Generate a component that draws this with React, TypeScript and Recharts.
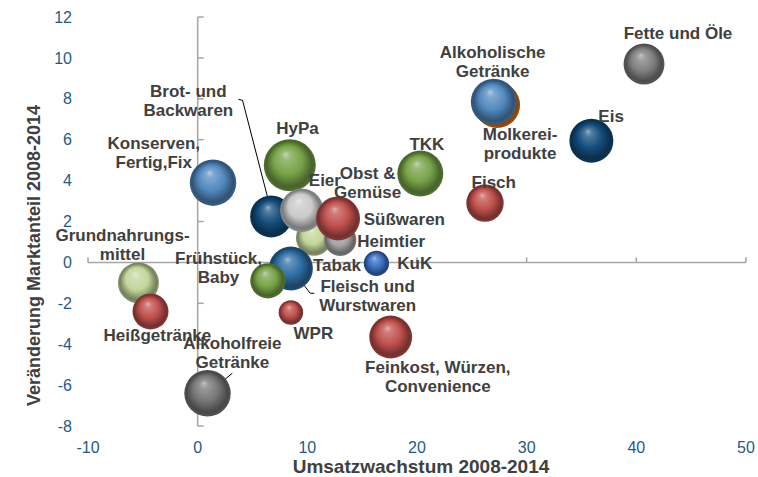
import {
  ScatterChart, Scatter, XAxis, YAxis, ZAxis, ReferenceLine, ReferenceDot,
} from 'recharts';

// bubbles (draw order = stacking order)
const names = [
  'Grundnahrungsmittel', 'Heißgetränke', 'Konserven, Fertig, Fix', 'Alkoholfreie Getränke',
  'HyPa', 'Brot- und Backwaren', 'Obst & Gemüse', 'Heimtier', 'Eier', 'Süßwaren',
  'Fleisch und Wurstwaren', 'Frühstück, Baby', 'WPR', 'KuK', 'Feinkost, Würzen, Convenience',
  'TKK', 'Fisch', 'Molkereiprodukte', 'Alkoholische Getränke', 'Eis', 'Fette und Öle',
];
const umsatzwachstum = [
  -5.4, -4.3, 1.4, 0.9, 8.4, 6.7, 10.6, 13.0, 9.5, 12.8,
  8.5, 6.4, 8.5, 16.3, 17.6, 20.3, 26.2, 27.3, 27.0, 35.9, 40.7,
];
const marktanteil = [
  -1.0, -2.4, 3.9, -6.4, 4.75, 2.25, 1.2, 1.1, 2.55, 2.15,
  -0.3, -0.9, -2.45, -0.05, -3.65, 4.35, 2.9, 7.7, 7.85, 5.95, 9.7,
];
const volumen = [
  420, 324, 540, 540, 676, 441, 324, 256, 470, 484,
  484, 310, 150, 160, 460, 529, 350, 529, 529, 484, 420,
];

const xTicks = [-10, 0, 10, 20, 30, 40, 50];
const yTicks = [-8, -6, -4, -2, 0, 2, 4, 6, 8, 10, 12];

// data labels: text lines and anchor (in data units)
const labelLines = [
  ['Fette und Öle'], ['Alkoholische', 'Getränke'], ['Eis'], ['Molkerei-', 'produkte'],
  ['TKK'], ['Fisch'], ['Obst &', 'Gemüse'], ['Eier'], ['Süßwaren'], ['Heimtier'],
  ['Tabak'], ['KuK'], ['Fleisch und', 'Wurstwaren'], ['WPR'], ['Feinkost, Würzen,', 'Convenience'],
  ['HyPa'], ['Brot- und', 'Backwaren'], ['Konserven,', 'Fertig,Fix'], ['Grundnahrungs-', 'mittel'],
  ['Frühstück,', 'Baby'], ['Heißgetränke'], ['Alkoholfreie', 'Getränke'],
];
const labelX = [
  43.8, 26.9, 37.7, 29.4, 20.9, 27.0, 15.5, 11.6, 18.85, 17.65,
  12.7, 19.8, 15.5, 10.55, 21.9, 9.1, -0.85, -4.0, -6.85, 1.9, -3.67, 3.17,
];
const labelY = [
  11.2, 9.8, 7.15, 5.78, 5.78, 3.92, 3.9, 4.02, 2.11, 1.04,
  -0.14, -0.04, -1.63, -3.46, -5.61, 6.56, 7.9, 5.36, 0.84, -0.28, -3.56, -4.42,
];

// leader lines (data units)
const leaders = [
  [{ x: 3.72, y: 7.97 }, { x: 4.09, y: 7.93 }, { x: 6.82, y: 2.26 }],
  [{ x: 8.54, y: -0.33 }, { x: 10.27, y: -1.51 }, { x: 10.63, y: -1.51 }],
  [{ x: 0.97, y: -6.39 }, { x: 3.16, y: -5.42 }],
];

const bubbleColor: Record<string, string> = {
  'Grundnahrungsmittel': '#c3d69b',
  'Heißgetränke': '#c0504d',
  'Konserven, Fertig, Fix': '#5289bf',
  'Alkoholfreie Getränke': '#767676',
  'HyPa': '#77a348',
  'Brot- und Backwaren': '#134c7c',
  'Obst & Gemüse': '#c3d69b',
  'Heimtier': '#a6a6a6',
  'Eier': '#cacaca',
  'Süßwaren': '#c0504d',
  'Fleisch und Wurstwaren': '#2e6da4',
  'Frühstück, Baby': '#77a348',
  'WPR': '#c0504d',
  'KuK': '#3b6fc2',
  'Feinkost, Würzen, Convenience': '#c0504d',
  'TKK': '#77a348',
  'Fisch': '#c0504d',
  'Molkereiprodukte': '#e46c0a',
  'Alkoholische Getränke': '#5289bf',
  'Eis': '#134c7c',
  'Fette und Öle': '#7f7f7f',
};

const data = names.map((name, i) => ({
  name,
  x: umsatzwachstum[i],
  y: marktanteil[i],
  z: volumen[i],
}));

const FONT = '"Liberation Sans", Arial, sans-serif';
const AXIS_GRAY = '#a6a6a6';
const TICK_BLUE = '#1f5a88';
const TEXT_GRAY = '#404040';

function mix(hex: string, target: number, t: number) {
  const n = parseInt(hex.slice(1), 16);
  const c = [(n >> 16) & 255, (n >> 8) & 255, n & 255].map((v) => Math.round(v + (target - v) * t));
  return `rgb(${c[0]},${c[1]},${c[2]})`;
}

const Bubble = (props: any) => {
  const { cx, cy, payload, index } = props;
  const r = props.width ? props.width / 2 : Math.sqrt((props.size ?? 0) / Math.PI);
  const base = bubbleColor[payload.name] ?? '#4f81bd';
  const id = `bub-${index}`;
  return (
    <g>
      <defs>
        <radialGradient id={id} cx="50%" cy="50%" r="50%" fx="42%" fy="28%">
          <stop offset="0%" stopColor={mix(base, 255, 0.55)} />
          <stop offset="18%" stopColor={mix(base, 255, 0.25)} />
          <stop offset="55%" stopColor={base} />
          <stop offset="88%" stopColor={mix(base, 0, 0.4)} />
          <stop offset="100%" stopColor={mix(base, 0, 0.3)} />
        </radialGradient>
      </defs>
      <circle cx={cx} cy={cy} r={r} fill={`url(#${id})`} />
    </g>
  );
};

const LINE_H = 19;

const makeLabel = (lines: string[]) => ({ viewBox }: any) => {
  const x = viewBox.x + (viewBox.width ?? 0) / 2;
  const y = viewBox.y + (viewBox.height ?? 0) / 2;
  const start = y - ((lines.length - 1) * LINE_H) / 2;
  return (
    <text
      x={x}
      y={start}
      textAnchor="middle"
      fontFamily={FONT}
      fontWeight="bold"
      fontSize={17}
      fill={TEXT_GRAY}
    >
      {lines.map((l, i) => (
        <tspan key={i} x={x} y={start + i * LINE_H} dominantBaseline="central">
          {l}
        </tspan>
      ))}
    </text>
  );
};

const YTitle = ({ viewBox }: any) => {
  const x = 34;
  const y = viewBox.y + viewBox.height / 2 + 34;
  return (
    <text
      x={x}
      y={y}
      transform={`rotate(-90 ${x} ${y})`}
      textAnchor="middle"
      dominantBaseline="central"
      fontFamily={FONT}
      fontWeight="bold"
      fontSize={18}
      fill={TEXT_GRAY}
    >
      Veränderung Marktanteil 2008-2014
    </text>
  );
};

const XTitle = ({ viewBox }: any) => {
  const x = viewBox.x + viewBox.width / 2 + 4;
  return (
    <text
      x={x}
      y={466}
      textAnchor="middle"
      dominantBaseline="central"
      fontFamily={FONT}
      fontWeight="bold"
      fontSize={19}
      fill={TEXT_GRAY}
    >
      Umsatzwachstum 2008-2014
    </text>
  );
};

export default function App() {
  return (
    <div style={{ position: 'absolute', left: 0, top: 0, width: 758, height: 477, background: '#fff' }}>
      <ScatterChart width={758} height={477} margin={{ top: 17, right: 12, bottom: 0, left: 0 }}>
        <XAxis
          type="number"
          dataKey="x"
          domain={[-10, 50]}
          ticks={xTicks}
          allowDataOverflow
          axisLine={false}
          tickLine={false}
          height={51}
          tickMargin={10}
          tick={{ fill: TICK_BLUE, fontSize: 16, fontFamily: FONT }}
          label={{ content: XTitle }}
        />
        <YAxis
          type="number"
          dataKey="y"
          domain={[-8, 12]}
          ticks={yTicks}
          allowDataOverflow
          axisLine={false}
          tickLine={false}
          width={88}
          tickMargin={10}
          tick={{ fill: TICK_BLUE, fontSize: 16, fontFamily: FONT }}
          label={{ content: YTitle }}
        />
        <ZAxis type="number" dataKey="z" domain={[0, 700]} range={[0, 700 * Math.PI]} />

        <ReferenceLine x={0} stroke={AXIS_GRAY} strokeWidth={1.5} />
        <ReferenceLine y={0} stroke={AXIS_GRAY} strokeWidth={1.5} />
        {yTicks.map((v) => (
          <ReferenceLine
            key={'yt' + v}
            segment={[{ x: 0, y: v }, { x: 0.55, y: v }]}
            stroke={AXIS_GRAY}
            strokeWidth={1.5}
          />
        ))}
        {xTicks.map((v) => (
          <ReferenceLine
            key={'xt' + v}
            segment={[{ x: v, y: 0 }, { x: v, y: 0.25 }]}
            stroke={AXIS_GRAY}
            strokeWidth={1.5}
          />
        ))}

        <Scatter data={data} shape={Bubble} isAnimationActive={false} />

        {leaders.flatMap((pts, li) =>
          pts.slice(1).map((p, i) => (
            <ReferenceLine
              key={`ld${li}-${i}`}
              segment={[pts[i], p]}
              stroke="#000"
              strokeWidth={1}
            />
          )),
        )}

        {labelLines.map((lines, i) => (
          <ReferenceDot
            key={'lb' + i}
            x={labelX[i]}
            y={labelY[i]}
            r={0}
            fill="none"
            stroke="none"
            label={{ content: makeLabel(lines) }}
          />
        ))}
      </ScatterChart>
    </div>
  );
}
